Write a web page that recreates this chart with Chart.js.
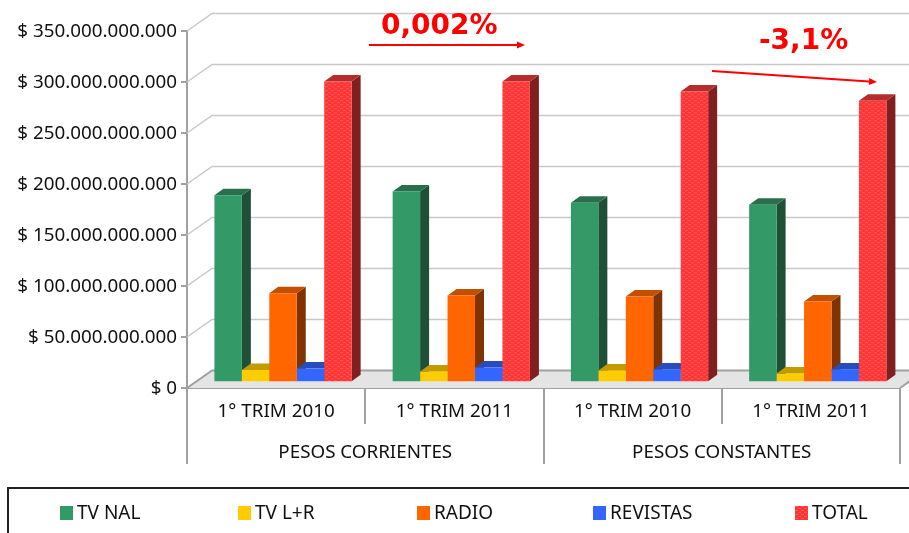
<!DOCTYPE html>
<html>
<head>
<meta charset="utf-8">
<style>
  html, body { margin: 0; padding: 0; background: #fff; overflow: hidden; }
  canvas { display: block; }
</style>
<script src="https://cdn.jsdelivr.net/npm/chart.js@4"></script>
</head>
<body>
<canvas id="myChart" width="909" height="533"></canvas>
<script>
var trimLabels = ["1° TRIM 2010", "1° TRIM 2011", "1° TRIM 2010", "1° TRIM 2011"];
var groupLabels = ["PESOS CORRIENTES", "PESOS CONSTANTES"];
var tvNal =    [183300000000, 187000000000, 176000000000, 174000000000];
var tvLR =     [12000000000, 10500000000, 11500000000, 8500000000];
var radio =    [87300000000, 85000000000, 84000000000, 79000000000];
var revistas = [13400000000, 14400000000, 12500000000, 12500000000];
var total =    [294800000000, 294800000000, 285000000000, 276000000000];

var FONT = "'Noto Sans', sans-serif";
var GRAY = "#a0a0a0";
// depth of the wall and of the bars, in px
var WALL = { dx: 25, dy: 17.5 };
var BAR_SHIFT = { dx: 6.9, dy: 5.8 };
var BAR_DEPTH = { dx: 9, dy: 6.5 };

// wavy pinkish texture of the TOTAL series
function totalPattern() {
  var c = document.createElement("canvas");
  c.width = 6; c.height = 4;
  var g = c.getContext("2d");
  g.fillStyle = "#ff3333";
  g.fillRect(0, 0, 6, 4);
  g.fillStyle = "#ff5c5c";
  g.fillRect(0, 0, 3, 1);
  g.fillRect(3, 2, 3, 1);
  return g.createPattern(c, "repeat");
}

function series(label, data, color, side, top) {
  return { label: label, data: data, backgroundColor: color, side: side, top: top,
           borderWidth: 0, clip: false, categoryPercentage: 0.77, barPercentage: 1 };
}

var wall3d = {
  id: "wall3d",
  beforeDatasetsDraw: function (chart) {
    var ctx = chart.ctx, a = chart.chartArea, y = chart.scales.y;
    ctx.save();
    // floor
    ctx.fillStyle = "#e4e4e4";
    ctx.beginPath();
    ctx.moveTo(a.left, a.bottom);
    ctx.lineTo(a.left + WALL.dx, a.bottom - WALL.dy);
    ctx.lineTo(a.right + WALL.dx, a.bottom - WALL.dy);
    ctx.lineTo(a.right, a.bottom);
    ctx.closePath();
    ctx.fill();
    // grid on the side wall and the back wall
    ctx.strokeStyle = "#c8c8c8";
    ctx.lineWidth = 1.5;
    y.ticks.forEach(function (t, i) {
      if (t.value === 0) return;
      var p = y.getPixelForTick(i);
      ctx.beginPath();
      ctx.moveTo(a.left, p);
      ctx.lineTo(a.left + WALL.dx, p - WALL.dy);
      ctx.lineTo(a.right + WALL.dx, p - WALL.dy);
      ctx.stroke();
    });
    // floor edges
    ctx.strokeStyle = GRAY;
    ctx.lineWidth = 2;
    ctx.beginPath();
    ctx.moveTo(a.left, a.bottom);
    ctx.lineTo(a.left + WALL.dx, a.bottom - WALL.dy);
    ctx.lineTo(a.right + WALL.dx, a.bottom - WALL.dy);
    ctx.moveTo(a.right, a.bottom);
    ctx.lineTo(a.right + WALL.dx, a.bottom - WALL.dy);
    ctx.stroke();
    // sides and tops of the bars, left to right; the fronts come later from Chart.js
    ctx.translate(BAR_SHIFT.dx, -BAR_SHIFT.dy);
    chart.data.datasets.forEach(function (ds, i) {
      chart.getDatasetMeta(i).data.forEach(function (b) {
        var l = b.x - b.width / 2, r = b.x + b.width / 2;
        var dx = BAR_DEPTH.dx, dy = BAR_DEPTH.dy;
        ctx.fillStyle = ds.side;
        ctx.beginPath();
        ctx.moveTo(r, b.y);
        ctx.lineTo(r + dx, b.y - dy);
        ctx.lineTo(r + dx, b.base - dy);
        ctx.lineTo(r, b.base);
        ctx.closePath();
        ctx.fill();
        ctx.fillStyle = ds.top;
        ctx.beginPath();
        ctx.moveTo(l, b.y);
        ctx.lineTo(l + dx, b.y - dy);
        ctx.lineTo(r + dx, b.y - dy);
        ctx.lineTo(r, b.y);
        ctx.closePath();
        ctx.fill();
      });
    });
    ctx.restore();
  },
  beforeDatasetDraw: function (chart) {
    chart.ctx.save();
    chart.ctx.translate(BAR_SHIFT.dx, -BAR_SHIFT.dy);
  },
  afterDatasetDraw: function (chart) {
    chart.ctx.restore();
  },
  afterDraw: function (chart) {
    var ctx = chart.ctx;
    ctx.save();
    // legend box runs off the bottom and right of the picture
    ctx.strokeStyle = "#222";
    ctx.lineWidth = 2;
    ctx.strokeRect(8, 488, 1000, 100);
    var xs = [60, 238, 417, 593, 795];
    ctx.font = "19px " + FONT;
    ctx.textBaseline = "middle";
    chart.data.datasets.forEach(function (ds, i) {
      ctx.fillStyle = ds.backgroundColor;
      ctx.fillRect(xs[i], 506, 13, 14);
      ctx.fillStyle = "#111";
      ctx.fillText(ds.label, xs[i] + 17, 514);
    });
    // annotations
    ctx.fillStyle = "#ff0000";
    ctx.font = "bold 28px 'DejaVu Sans', sans-serif";
    ctx.textAlign = "left";
    ctx.fillText("0,002%", 381, 27);
    ctx.fillText("-3,1%", 759, 42);
    arrow(ctx, 369, 45, 525, 45);
    arrow(ctx, 712, 71, 877, 82);
    ctx.restore();
  }
};

function arrow(ctx, x1, y1, x2, y2) {
  var ang = Math.atan2(y2 - y1, x2 - x1), len = 8, w = 3.5;
  ctx.strokeStyle = "#ff0000";
  ctx.lineWidth = 2;
  ctx.beginPath();
  ctx.moveTo(x1, y1);
  ctx.lineTo(x2 - len * Math.cos(ang), y2 - len * Math.sin(ang));
  ctx.stroke();
  ctx.beginPath();
  ctx.moveTo(x2, y2);
  ctx.lineTo(x2 - len * Math.cos(ang) + w * Math.sin(ang), y2 - len * Math.sin(ang) - w * Math.cos(ang));
  ctx.lineTo(x2 - len * Math.cos(ang) - w * Math.sin(ang), y2 - len * Math.sin(ang) + w * Math.cos(ang));
  ctx.closePath();
  ctx.fillStyle = "#ff0000";
  ctx.fill();
}

var ctx = document.getElementById("myChart");
var myChart = new Chart(ctx, {
  type: "bar",
  data: {
    labels: trimLabels,
    datasets: [
      series("TV NAL", tvNal, "#339966", "#1f4f37", "#2a6f4d"),
      series("TV L+R", tvLR, "#ffcc00", "#7f6600", "#c29b00"),
      series("RADIO", radio, "#ff6600", "#7f3300", "#c25000"),
      series("REVISTAS", revistas, "#3366ff", "#1a337f", "#264cbf"),
      series("TOTAL", total, totalPattern(), "#7f1f1f", "#b32d2d")
    ]
  },
  options: {
    responsive: false,
    animation: false,
    layout: { padding: { top: 31, right: 9, bottom: 69, left: 0 } },
    plugins: { legend: { display: false }, tooltip: { enabled: false } },
    scales: {
      x: {
        weight: 0,
        border: { color: GRAY, width: 2 },
        grid: { offset: true, drawOnChartArea: false, tickLength: 36, color: GRAY, lineWidth: 2 },
        ticks: { padding: -24, color: "#111", font: { family: FONT, size: 18.8 }, maxRotation: 0 },
        afterFit: function (s) { s.height = 36; }
      },
      x2: {
        type: "category",
        labels: groupLabels,
        position: "bottom",
        offset: true,
        weight: 1,
        border: { display: false },
        grid: { offset: true, drawOnChartArea: false, tickLength: 40, color: GRAY, lineWidth: 2 },
        ticks: { padding: -23, color: "#111", font: { family: FONT, size: 18.8 }, maxRotation: 0 },
        afterFit: function (s) { s.height = 40; }
      },
      y: {
        min: 0,
        max: 350000000000,
        border: { color: GRAY, width: 2 },
        grid: { drawOnChartArea: false, tickLength: 6, color: GRAY, lineWidth: 2 },
        ticks: {
          stepSize: 50000000000,
          padding: 4,
          labelOffset: 1,
          color: "#111",
          font: { family: FONT, size: 18.8 },
          callback: function (v) { return "$ " + String(v).replace(/\B(?=(\d{3})+$)/g, "."); }
        },
        afterFit: function (s) { s.width = 187; }
      }
    }
  },
  plugins: [wall3d]
});
</script>
</body>
</html>
